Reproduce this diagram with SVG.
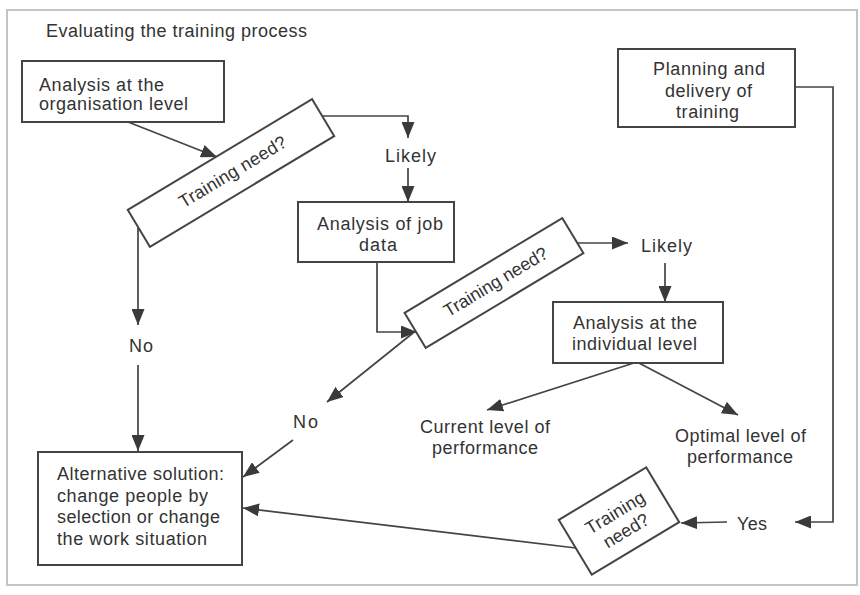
<svg xmlns="http://www.w3.org/2000/svg" width="860" height="595" viewBox="0 0 860 595">
<defs>
<style>
text{font-family:"Liberation Sans",Arial,sans-serif;font-size:18px;fill:#333;}
.box{fill:#fff;stroke:#444;stroke-width:2;}
.ln{fill:none;stroke:#444;stroke-width:1.7;}
.ar{marker-end:url(#ah);}
</style>
<marker id="ah" markerUnits="userSpaceOnUse" markerWidth="16" markerHeight="13" refX="16" refY="6.5" orient="auto">
<path d="M0,0 L16,6.5 L0,13 z" fill="#3a3a3a"/>
</marker>
</defs>
<rect x="0" y="0" width="860" height="595" fill="#fff"/>
<rect x="7" y="10" width="850" height="575" fill="none" stroke="#c4c4c4" stroke-width="2"/>
<text id="title" x="46" y="37" textLength="261" lengthAdjust="spacing">Evaluating the training process</text>

<g id="connectors">
<line class="ln ar" x1="123" y1="120" x2="217" y2="157"/>
<polyline class="ln ar" points="322,116 408,116 408,138"/>
<line class="ln ar" x1="408" y1="168" x2="408" y2="202"/>
<line class="ln ar" x1="138" y1="228" x2="138" y2="325"/>
<line class="ln ar" x1="138" y1="365" x2="138" y2="451"/>
<polyline class="ln ar" points="377,263 377,332 417,332"/>
<line class="ln ar" x1="413" y1="333" x2="327" y2="402"/>
<line class="ln ar" x1="293" y1="440" x2="243" y2="477"/>
<line class="ln ar" x1="577" y1="243" x2="628" y2="243"/>
<line class="ln ar" x1="665" y1="263" x2="665" y2="302"/>
<line class="ln ar" x1="637" y1="362" x2="487" y2="410"/>
<line class="ln ar" x1="637" y1="362" x2="738" y2="415"/>
<polyline class="ln ar" points="796,87 833,87 833,522 795,522"/>
<line class="ln ar" x1="727" y1="522" x2="681" y2="523"/>
<line class="ln ar" x1="576" y1="548" x2="243" y2="508"/>
</g>

<g id="org">
<rect class="box" x="22" y="61" width="202" height="61"/>
<text x="39" y="91" textLength="125" lengthAdjust="spacing">Analysis at the</text>
<text x="39" y="110" textLength="149" lengthAdjust="spacing">organisation level</text>
</g>

<g id="need1" transform="translate(231,173) rotate(-31)">
<rect class="box" x="-107.5" y="-21.5" width="215" height="43"/>
<text x="2" y="6" text-anchor="middle" textLength="122" lengthAdjust="spacing">Training need?</text>
</g>

<g id="likely1"><text x="385" y="162" textLength="51" lengthAdjust="spacing">Likely</text></g>

<g id="job">
<rect class="box" x="298" y="202" width="156" height="60"/>
<text x="317" y="230" textLength="126" lengthAdjust="spacing">Analysis of job</text>
<text x="359" y="251" textLength="38" lengthAdjust="spacing">data</text>
</g>

<g id="no1"><text x="129" y="352" textLength="24" lengthAdjust="spacing">No</text></g>

<g id="need2" transform="translate(494,283) rotate(-31)">
<rect class="box" x="-92" y="-20.5" width="184" height="41"/>
<text x="2" y="6" text-anchor="middle" textLength="118" lengthAdjust="spacing">Training need?</text>
</g>

<g id="likely2"><text x="641" y="252" textLength="51" lengthAdjust="spacing">Likely</text></g>

<g id="indiv">
<rect class="box" x="553" y="302" width="170" height="61"/>
<text x="573" y="329" textLength="124" lengthAdjust="spacing">Analysis at the</text>
<text x="572" y="350" textLength="125" lengthAdjust="spacing">individual level</text>
</g>

<g id="no2"><text x="293" y="428" textLength="25" lengthAdjust="spacing">No</text></g>

<g id="current">
<text x="420" y="433" textLength="130" lengthAdjust="spacing">Current level of</text>
<text x="432" y="454" textLength="106" lengthAdjust="spacing">performance</text>
</g>

<g id="optimal">
<text x="675" y="442" textLength="131" lengthAdjust="spacing">Optimal level of</text>
<text x="687" y="463" textLength="106" lengthAdjust="spacing">performance</text>
</g>

<g id="planning">
<rect class="box" x="618" y="49" width="177" height="78"/>
<text x="653" y="75" textLength="112" lengthAdjust="spacing">Planning and</text>
<text x="665" y="97" textLength="87" lengthAdjust="spacing">delivery of</text>
<text x="676" y="118" textLength="63" lengthAdjust="spacing">training</text>
</g>

<g id="yes"><text x="737" y="530" textLength="30" lengthAdjust="spacing">Yes</text></g>

<g id="need3" transform="translate(619,521) rotate(-31)">
<rect class="box" x="-51" y="-32" width="102" height="64"/>
<text x="1" y="-3" text-anchor="middle" textLength="66" lengthAdjust="spacing">Training</text>
<text x="1" y="18" text-anchor="middle" textLength="50" lengthAdjust="spacing">need?</text>
</g>

<g id="alternative">
<rect class="box" x="38" y="452" width="204" height="113"/>
<text x="57" y="480" textLength="167" lengthAdjust="spacing">Alternative solution:</text>
<text x="57" y="502" textLength="151" lengthAdjust="spacing">change people by</text>
<text x="57" y="523" textLength="163" lengthAdjust="spacing">selection or change</text>
<text x="57" y="545" textLength="150" lengthAdjust="spacing">the work situation</text>
</g>
</svg>
